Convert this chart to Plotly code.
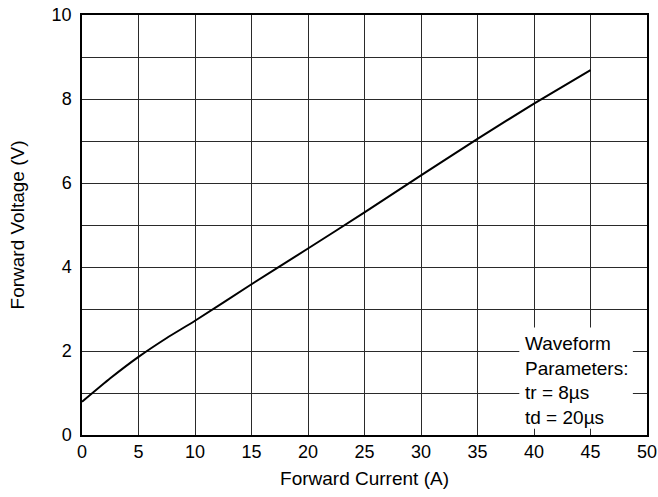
import plotly.graph_objects as go

current_a = [0, 2.5, 5, 7.5, 10, 15, 20, 25, 30, 35, 40, 45]
voltage_v = [0.79, 1.35, 1.86, 2.31, 2.72, 3.59, 4.44, 5.30, 6.18, 7.05, 7.89, 8.69]

x_ticks = [0, 5, 10, 15, 20, 25, 30, 35, 40, 45, 50]
y_ticks = [0, 2, 4, 6, 8, 10]
note_lines = ["Waveform", "Parameters:", "tr = 8\u00b5s", "td = 20\u00b5s"]

FONT = "Liberation Sans, Arial, sans-serif"
FS = 18
FS_TITLE = 19
GRID = "#2a2a2a"

fig = go.Figure()
fig.add_trace(go.Scatter(
    x=current_a, y=voltage_v, mode="lines",
    line=dict(color="black", width=2, shape="spline", smoothing=0.5),
    showlegend=False, hoverinfo="skip",
))

# white box behind the note
fig.add_shape(type="rect", xref="x", yref="y",
              x0=38.7, x1=48.75, y0=0.15, y1=2.56,
              fillcolor="white", line=dict(width=0), layer="above")

fig.add_annotation(
    x=39.05, y=1.30, xref="x", yref="y",
    xanchor="left", yanchor="middle", align="left",
    text="<br>".join(note_lines), showarrow=False,
    font=dict(family=FONT, size=FS_TITLE, color="black"),
)

fig.update_layout(
    width=658, height=497,
    margin=dict(l=81.5, r=11, t=15, b=61.5, autoexpand=False),
    paper_bgcolor="white", plot_bgcolor="white",
    font=dict(family=FONT, size=FS, color="black"),
    xaxis=dict(
        range=[0, 50], tickvals=x_ticks, showgrid=True, automargin=False,
        gridcolor=GRID, gridwidth=1, zeroline=False,
        showline=True, linecolor="black", linewidth=1.5, mirror=True,
        ticks="", ticklabelstandoff=0, ticklabeloverflow="allow",
        title=dict(text="Forward Current (A)", standoff=10,
                   font=dict(family=FONT, size=FS_TITLE)),
    ),
    yaxis=dict(
        range=[0, 10], tickvals=y_ticks, showgrid=True, automargin=False,
        gridcolor=GRID, gridwidth=1, zeroline=False,
        minor=dict(dtick=1, showgrid=True, gridcolor=GRID, gridwidth=1),
        showline=True, linecolor="black", linewidth=1.5, mirror=True,
        ticks="", ticklabelstandoff=5, ticklabeloverflow="allow",
        title=dict(text="Forward Voltage (V)", standoff=22,
                   font=dict(family=FONT, size=FS_TITLE)),
    ),
)

# remove the default page margin so the 658x497 figure fills the window exactly
fig.write_html(
    "out.html",
    config={"displayModeBar": False},
    post_script="document.body.style.margin='0';document.body.style.overflow='hidden';",
)
